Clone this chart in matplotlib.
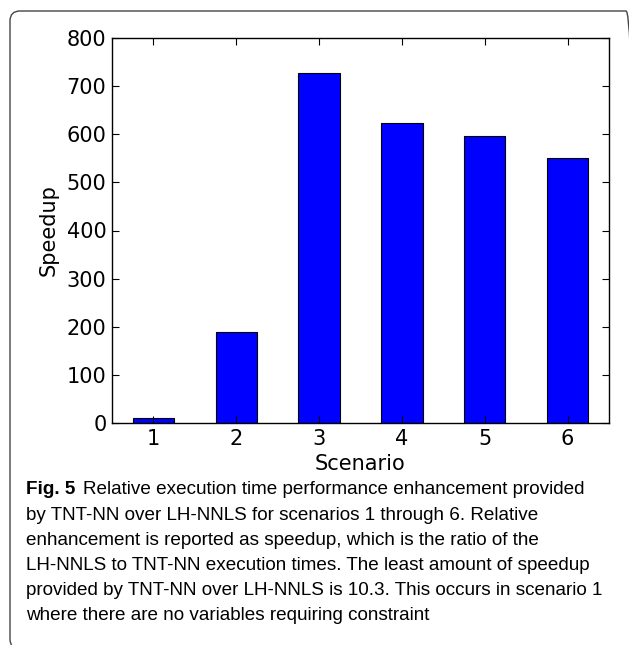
import matplotlib
matplotlib.use("Agg")
import matplotlib.pyplot as plt
from matplotlib.patches import FancyBboxPatch
from matplotlib.transforms import IdentityTransform
from matplotlib import font_manager

# Speedup of TNT-NN over LH-NNLS per scenario
scenarios = [1, 2, 3, 4, 5, 6]
speedup = [10.3, 190, 727, 624, 597, 551]
yticks = [0, 100, 200, 300, 400, 500, 600, 700, 800]

caption_head = "Fig. 5"
caption_lines = [
    "Relative execution time performance enhancement provided",
    "by TNT-NN over LH-NNLS for scenarios 1 through 6. Relative",
    "enhancement is reported as speedup, which is the ratio of the",
    "LH-NNLS to TNT-NN execution times. The least amount of speedup",
    "provided by TNT-NN over LH-NNLS is 10.3. This occurs in scenario 1",
    "where there are no variables requiring constraint",
]

W, H = 629, 645
fig = plt.figure(figsize=(W / 100, H / 100), dpi=100)

# pick a narrow face for the caption if one is available
names = {f.name for f in font_manager.fontManager.ttflist}
cap_font = "Liberation Sans Narrow" if "Liberation Sans Narrow" in names else "Liberation Sans"
axis_font = "DejaVu Sans"
cap_size = 13.6

ax = fig.add_axes([112 / W, 1 - 423 / H, (609 - 112) / W, (423 - 38) / H])
ax.bar(scenarios, speedup, width=0.5, color="#0000ff", edgecolor="black", linewidth=0.8)
ax.set_xlim(0.5, 6.5)
ax.set_ylim(0, 800)
ax.set_xticks(scenarios)
ax.set_yticks(yticks)
ax.tick_params(direction="in", top=True, right=True, length=5, width=0.8,
               labelsize=15, pad=4)
for lab in ax.get_xticklabels() + ax.get_yticklabels():
    lab.set_fontfamily(axis_font)
ax.set_xlabel("Scenario", fontsize=15, family=axis_font, labelpad=4)
ax.set_ylabel("Speedup", fontsize=15, family=axis_font, labelpad=6)
for s in ax.spines.values():
    s.set_linewidth(1.0)

# rounded frame in pixel units; right and bottom sides run off the page
frame = FancyBboxPatch((10, -4), 636 - 10, H - 11 + 4,
                       boxstyle="round,pad=0,rounding_size=10",
                       transform=IdentityTransform(), fill=False,
                       edgecolor="#444444", linewidth=1.0, clip_on=False)
fig.patches.append(frame)

# caption: bold label then regular text on the first line
x0 = 26 / W
y_first = 490
step = 25.2
head = fig.text(x0, 1 - y_first / H, caption_head, fontsize=cap_size, fontweight="bold",
                family=cap_font, va="center", ha="left")
fig.canvas.draw()
bb = head.get_window_extent()
fig.text((bb.x1 + 8) / W, 1 - y_first / H, caption_lines[0], fontsize=cap_size,
         family=cap_font, va="center", ha="left")
for i, line in enumerate(caption_lines[1:], start=1):
    fig.text(x0, 1 - (y_first + i * step) / H, line, fontsize=cap_size,
             family=cap_font, va="center", ha="left")

fig.savefig("out.png", dpi=100)
